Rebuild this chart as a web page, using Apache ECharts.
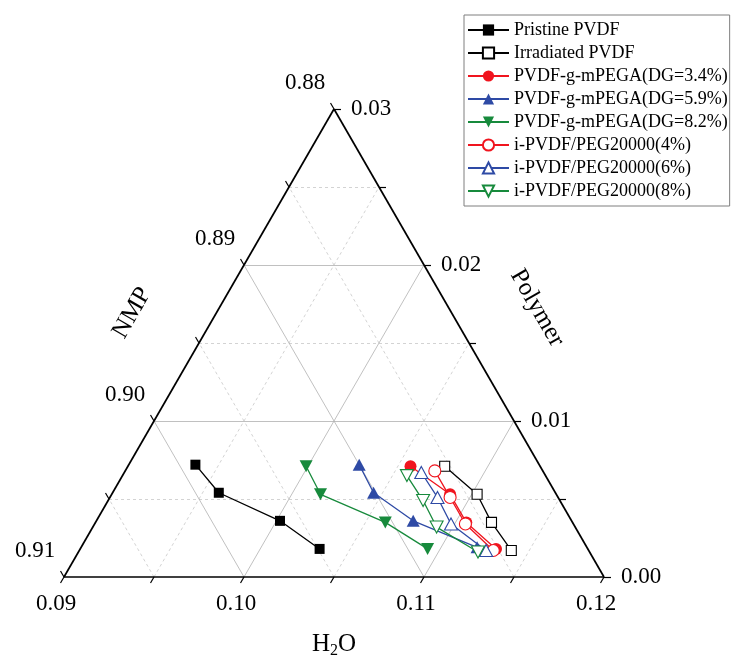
<!DOCTYPE html>
<html>
<head>
<meta charset="utf-8">
<script src="https://cdn.jsdelivr.net/npm/echarts@6/dist/echarts.min.js"></script>
<style>
html, body { margin: 0; padding: 0; background: #fff; }
#main { width: 735px; height: 663px; }
</style>
</head>
<body>
<div id="main"></div>
<script>
// ternary composition: H2O and polymer, NMP = 1 - H2O - polymer
var h2oPristine = [0.0937, 0.0959, 0.1002, 0.1033];
var polyPristine = [0.0072, 0.0054, 0.0036, 0.0018];
var h2oIrradiated = [0.1076, 0.1103, 0.1120, 0.1140];
var polyIrradiated = [0.0071, 0.0053, 0.0035, 0.0017];
var h2oDG34 = [0.1057, 0.1088, 0.1106, 0.1131];
var polyDG34 = [0.0071, 0.0053, 0.0035, 0.0018];
var h2oDG59 = [0.1028, 0.1045, 0.1076, 0.1120];
var polyDG59 = [0.0072, 0.0054, 0.0036, 0.0019];
var h2oDG82 = [0.0999, 0.1016, 0.1061, 0.1093];
var polyDG82 = [0.0071, 0.0053, 0.0035, 0.0018];
var h2oPeg4 = [0.1072, 0.1089, 0.1106, 0.1130];
var polyPeg4 = [0.0068, 0.0051, 0.0034, 0.0017];
var h2oPeg6 = [0.1065, 0.1082, 0.1098, 0.1126];
var polyPeg6 = [0.0067, 0.0051, 0.0034, 0.0017];
var h2oPeg8 = [0.1058, 0.1075, 0.1091, 0.1122];
var polyPeg8 = [0.0065, 0.0049, 0.0032, 0.0016];

var seriesNames = ['Pristine PVDF', 'Irradiated PVDF', 'PVDF-g-mPEGA(DG=3.4%)', 'PVDF-g-mPEGA(DG=5.9%)',
  'PVDF-g-mPEGA(DG=8.2%)', 'i-PVDF/PEG20000(4%)', 'i-PVDF/PEG20000(6%)', 'i-PVDF/PEG20000(8%)'];

// tick labels of the three axes
var h2oTicks = ['0.09', '0.10', '0.11', '0.12'];
var polyTicks = ['0.00', '0.01', '0.02', '0.03'];
var nmpTicks = ['0.91', '0.90', '0.89', '0.88'];

var H0 = 0.09, SPAN = 0.03, S3 = Math.sqrt(3) / 2;
var PX = 540; // pixels per unit of the cartesian frame
var FONT = 'Liberation Serif';

// H2O / polymer -> cartesian position inside the triangle
function toXY(h, p) {
  var u = (h - H0) / SPAN, v = p / SPAN;
  return [u + v / 2, v * S3];
}

function pts(hs, ps) {
  return hs.map(function (h, i) { return toXY(h, ps[i]); });
}

// move a frame position by a screen offset in pixels
function shift(pos, dx, dy) {
  return [pos[0] + dx / PX, pos[1] - dy / PX];
}

// grid lines, every 0.005 (solid at 0.01, dashed between)
var majorLines = [], minorLines = [], ticks = [];
for (var k = 1; k < 6; k++) {
  var d = k * 0.005;
  var target = (k % 2 === 0) ? majorLines : minorLines;
  // constant polymer
  target.push({ coords: [toXY(H0, d), toXY(H0 + SPAN - d, d)] });
  // constant H2O
  target.push({ coords: [toXY(H0 + d, 0), toXY(H0 + d, SPAN - d)] });
  // constant NMP
  target.push({ coords: [toXY(H0 + d, 0), toXY(H0, d)] });
}
var TL = 7 / PX;
for (var k = 0; k <= 6; k++) {
  var d = k * 0.005;
  var b = toXY(H0 + d, 0);
  ticks.push({ coords: [b, [b[0] - TL * 0.5, b[1] - TL * S3]] });
  var r = toXY(H0 + SPAN - d, d);
  ticks.push({ coords: [r, [r[0] + TL, r[1]]] });
  var l = toXY(H0, d);
  ticks.push({ coords: [l, [l[0] - TL * 0.5, l[1] + TL * S3]] });
}
var frame = [
  { coords: [toXY(H0, 0), toXY(H0 + SPAN, 0)] },
  { coords: [toXY(H0 + SPAN, 0), toXY(H0, SPAN)] },
  { coords: [toXY(H0, SPAN), toXY(H0, 0)] }
];

function labelItem(pos, text, dx, dy, align) {
  return {
    value: shift(pos, dx, dy),
    label: { show: true, formatter: text, align: align || 'center' }
  };
}
var tickLabels = [];
h2oTicks.forEach(function (t) { tickLabels.push(labelItem(toXY(parseFloat(t), 0), t, -8, 27)); });
polyTicks.forEach(function (t) { tickLabels.push(labelItem(toXY(H0 + SPAN - parseFloat(t), parseFloat(t)), t, 17, 0, 'left')); });
nmpTicks.forEach(function (t) { tickLabels.push(labelItem(toXY(H0, 1 - H0 - parseFloat(t)), t, -29, -26)); });

var titles = [
  { value: shift(toXY(H0 + SPAN / 2, 0), 0, 67), label: { show: true, formatter: '{a|H}{b|2}{a|O}' } },
  { value: shift(toXY(H0, SPAN / 2), -67, -30), label: { show: true, formatter: 'NMP', rotate: 60 } },
  { value: shift(toXY(H0 + SPAN / 2, SPAN / 2), 68, -35), label: { show: true, formatter: 'Polymer', rotate: -60 } }
];

var RED = '#f0141e', BLUE = '#2e4aa5', GREEN = '#178a3c';

function dataSeries(name, hs, ps, color, symbol, size, rotate, hollow) {
  return {
    name: name,
    type: 'line',
    clip: false,
    data: pts(hs, ps),
    symbol: symbol,
    symbolSize: size,
    symbolRotate: rotate,
    showSymbol: true,
    lineStyle: { color: color, width: 1.3 },
    itemStyle: hollow ? { color: '#fff', borderColor: color, borderWidth: 1.1 } : { color: color, borderWidth: 0 },
    z: 5
  };
}

var chart = echarts.init(document.getElementById('main'), null, { renderer: 'canvas' });
var option = {
  animation: false,
  backgroundColor: '#fff',
  grid: { left: 64, top: 109, width: 540, height: 468 },
  xAxis: { type: 'value', min: 0, max: 1, show: false },
  yAxis: { type: 'value', min: 0, max: S3, show: false },
  legend: {
    data: seriesNames,
    orient: 'vertical',
    left: 464,
    top: 15,
    padding: [6, 2, 6, 3],
    itemWidth: 41,
    itemHeight: 14,
    itemGap: 5,
    borderColor: '#7f7f7f',
    borderWidth: 1,
    textStyle: { fontFamily: FONT, fontSize: 18, lineHeight: 18, color: '#000' }
  },
  series: [
    { type: 'lines', coordinateSystem: 'cartesian2d', silent: true, clip: false, data: minorLines,
      lineStyle: { color: '#c8c8c8', width: 0.8, type: [3, 3], opacity: 1 }, z: 1 },
    { type: 'lines', coordinateSystem: 'cartesian2d', silent: true, clip: false, data: majorLines,
      lineStyle: { color: '#b0b0b0', width: 0.8, opacity: 1 }, z: 1 },
    { type: 'lines', coordinateSystem: 'cartesian2d', silent: true, clip: false, data: frame,
      lineStyle: { color: '#000', width: 1.7, opacity: 1 }, z: 2 },
    { type: 'lines', coordinateSystem: 'cartesian2d', silent: true, clip: false, data: ticks,
      lineStyle: { color: '#000', width: 1.2, opacity: 1 }, z: 2 },
    { type: 'scatter', silent: true, clip: false, data: tickLabels, symbolSize: 1,
      itemStyle: { color: 'transparent', opacity: 1 },
      label: { position: 'inside', verticalAlign: 'middle', fontFamily: FONT, fontSize: 23, color: '#000',
        textBorderWidth: 0 }, z: 3 },
    { type: 'scatter', silent: true, clip: false, data: titles, symbolSize: 1,
      itemStyle: { color: 'transparent', opacity: 1 },
      label: { position: 'inside', align: 'center', verticalAlign: 'middle', fontFamily: FONT, fontSize: 25, color: '#000',
        textBorderWidth: 0,
        rich: {
          a: { fontFamily: FONT, fontSize: 25, lineHeight: 30, verticalAlign: 'middle', color: '#000' },
          b: { fontFamily: FONT, fontSize: 16, lineHeight: 30, verticalAlign: 'bottom', color: '#000' }
        } }, z: 3 },
    dataSeries(seriesNames[0], h2oPristine, polyPristine, '#000', 'rect', 10, 0, false),
    dataSeries(seriesNames[1], h2oIrradiated, polyIrradiated, '#000', 'rect', 10, 0, true),
    dataSeries(seriesNames[2], h2oDG34, polyDG34, RED, 'circle', 12, 0, false),
    dataSeries(seriesNames[3], h2oDG59, polyDG59, BLUE, 'triangle', [13, 12], 0, false),
    dataSeries(seriesNames[4], h2oDG82, polyDG82, GREEN, 'triangle', [13, 12], 180, false),
    dataSeries(seriesNames[5], h2oPeg4, polyPeg4, RED, 'circle', 12, 0, true),
    dataSeries(seriesNames[6], h2oPeg6, polyPeg6, BLUE, 'triangle', [13, 12], 0, true),
    dataSeries(seriesNames[7], h2oPeg8, polyPeg8, GREEN, 'triangle', [13, 12], 180, true)
  ]
};
chart.setOption(option);
</script>
</body>
</html>
